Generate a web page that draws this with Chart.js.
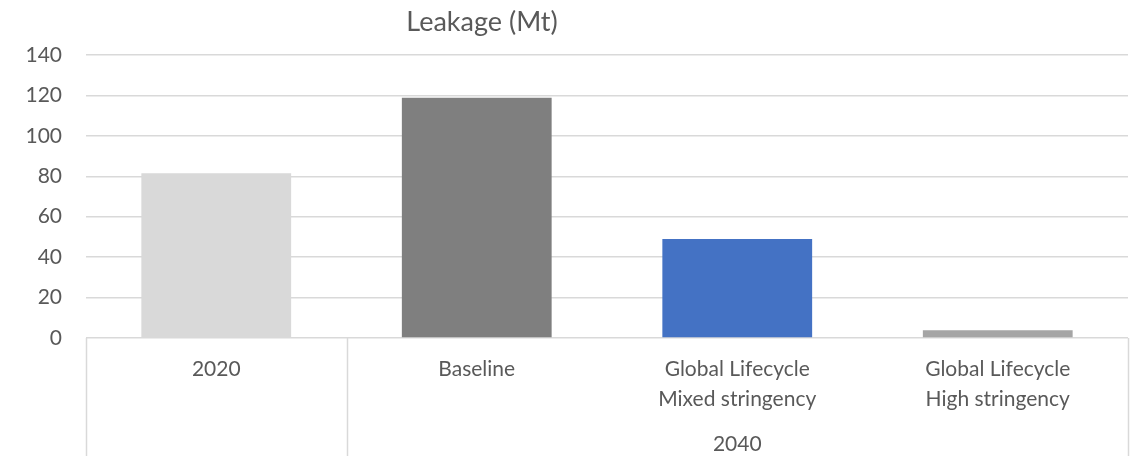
<!DOCTYPE html>
<html lang="en">
<head>
    <meta charset="UTF-8">
    <title>Leakage (Mt)</title>
    <script src="https://cdn.jsdelivr.net/npm/chart.js"></script>
    <style>
        body {
            margin: 0;
            padding: 0;
            background: #fff;
        }
        #chartContainer {
            width: 1140px;
            height: 456px;
        }
    </style>
</head>
<body>
    <div id="chartContainer">
        <canvas id="leakChart"></canvas>
    </div>

    <script>
        const chartTitle = 'Leakage (Mt)';
        const categories = [
            ['2020'],
            ['Baseline'],
            ['Global Lifecycle', 'Mixed stringency'],
            ['Global Lifecycle', 'High stringency']
        ];
        const groupLabels = ['', '2040'];      // group label per block
        const groupStarts = [0, 1];            // first category index of each group
        const leakage = [81.5, 118.8, 49, 3.8];
        const barColors = ['#d9d9d9', '#7f7f7f', '#4472c4', '#a5a5a5'];
        const yTicks = { min: 0, max: 140, step: 20 };

        const textColor = '#595959';
        const lineColor = '#d9d9d9';
        const fontFamily = 'Lato, "Open Sans", sans-serif';

        // title, group separators and the "2040" label under the categories
        const multiLevelAxis = {
            id: 'multiLevelAxis',
            afterDraw(chart) {
                const ctx = chart.ctx;
                const x = chart.scales.x;
                const area = chart.chartArea;
                const bottom = chart.height;

                const edge = i => {
                    if (i <= 0) return area.left;
                    if (i >= categories.length) return area.right;
                    return (x.getPixelForValue(i - 1) + x.getPixelForValue(i)) / 2;
                };

                ctx.save();
                ctx.strokeStyle = lineColor;
                ctx.lineWidth = 1.5;
                const bounds = groupStarts.concat([categories.length]);
                bounds.forEach(i => {
                    const px = Math.round(edge(i)) + 0.5;
                    ctx.beginPath();
                    ctx.moveTo(px, area.bottom);
                    ctx.lineTo(px, bottom);
                    ctx.stroke();
                });

                ctx.fillStyle = textColor;
                ctx.font = '21px ' + fontFamily;
                ctx.textAlign = 'center';
                ctx.textBaseline = 'middle';
                groupLabels.forEach((lbl, g) => {
                    if (!lbl) return;
                    const l = edge(bounds[g]);
                    const r = edge(bounds[g + 1]);
                    ctx.fillText(lbl, (l + r) / 2, 444);
                });

                ctx.font = '27px ' + fontFamily;
                ctx.fillText(chartTitle, 482, 22);
                ctx.restore();
            }
        };

        const ctx = document.getElementById('leakChart').getContext('2d');
        new Chart(ctx, {
            type: 'bar',
            data: {
                labels: categories,
                datasets: [{
                    label: chartTitle,
                    data: leakage,
                    backgroundColor: barColors,
                    borderWidth: 0,
                    categoryPercentage: 1,
                    barPercentage: 0.575
                }]
            },
            options: {
                responsive: true,
                maintainAspectRatio: false,
                animation: false,
                layout: {
                    padding: { top: 55, right: 12, left: 0, bottom: 0 }
                },
                plugins: {
                    legend: { display: false },
                    tooltip: { enabled: false }
                },
                scales: {
                    x: {
                        grid: { display: false },
                        border: { display: false },
                        ticks: {
                            color: textColor,
                            font: { family: fontFamily, size: 21, lineHeight: 1.43 },
                            padding: 8,
                            maxRotation: 0,
                            autoSkip: false
                        },
                        afterFit(scale) { scale.height = 118; }
                    },
                    y: {
                        min: yTicks.min,
                        max: yTicks.max,
                        grid: { color: lineColor, lineWidth: 1.5, drawTicks: false },
                        border: { display: false },
                        ticks: {
                            stepSize: yTicks.step,
                            color: textColor,
                            font: { family: fontFamily, size: 21 },
                            padding: 24
                        },
                        afterFit(scale) { scale.width = 86; }
                    }
                }
            },
            plugins: [multiLevelAxis]
        });
    </script>
</body>
</html>
